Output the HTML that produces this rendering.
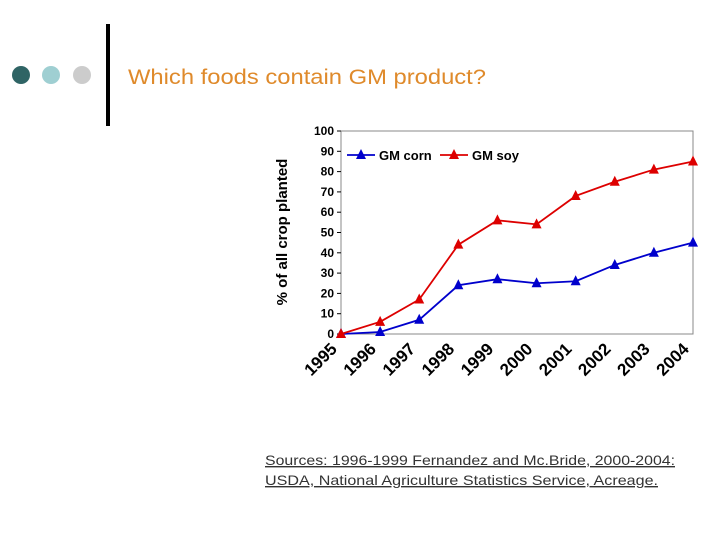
<!DOCTYPE html>
<html><head><meta charset="utf-8"><style>
body{margin:0;background:#fff;width:720px;height:540px;overflow:hidden;font-family:"Liberation Sans",sans-serif}
</style></head><body>
<svg width="720" height="540">
<circle cx="21" cy="75" r="9" fill="#2f6465"/>
<circle cx="51" cy="75" r="9" fill="#9fcfd2"/>
<circle cx="82" cy="75" r="9" fill="#cccccc"/>
<rect x="106" y="24" width="4" height="102" fill="#000"/>
<text x="128" y="84" font-size="21" fill="#df8a2b" textLength="358" lengthAdjust="spacingAndGlyphs">Which foods contain GM product?</text>
<g id="chart"></g>
<text x="265" y="465" font-size="14" fill="#333" text-decoration="underline" textLength="410" lengthAdjust="spacingAndGlyphs">Sources: 1996-1999 Fernandez and Mc.Bride, 2000-2004:</text>
<text x="265" y="485" font-size="14" fill="#333" text-decoration="underline" textLength="393" lengthAdjust="spacingAndGlyphs">USDA, National Agriculture Statistics Service, Acreage.</text>
</svg>
<script>
const years=["1995","1996","1997","1998","1999","2000","2001","2002","2003","2004"];
const corn=[0,1,7,24,27,25,26,34,40,45];
const soy=[0,6,17,44,56,54,68,75,81,85];
const yTicks=[0,10,20,30,40,50,60,70,80,90,100];
const NS="http://www.w3.org/2000/svg";
const g=document.getElementById('chart');
const L=341,R=693,T=131,B=334;
const xs=i=>L+(R-L)*i/(years.length-1);
const ys=v=>B-(B-T)*v/100;
function mk(t,a,p){const e=document.createElementNS(NS,t);for(const k in a)e.setAttribute(k,a[k]);(p||g).appendChild(e);return e;}
let fr=mk('rect',{x:L,y:T,width:R-L,height:B-T,fill:'none',stroke:'#888'});


yTicks.forEach(v=>{
 const t=mk('text',{x:L-7,y:ys(v)+4,'text-anchor':'end','font-size':12,'font-weight':'bold'});t.textContent=v;
 
 
 mk('line',{x1:L-4,x2:L,y1:ys(v),y2:ys(v),stroke:'#000'});
});
years.forEach((y,i)=>{
 const x=xs(i)-3,yy=350;
 const t=mk('text',{x:x,y:yy,'text-anchor':'end','font-size':17,'font-weight':'bold',transform:`rotate(-45 ${x} ${yy})`});t.textContent=y;
 
 
});
const yt=mk('text',{x:0,y:0,'text-anchor':'middle','font-size':15,'font-weight':'bold',transform:'translate(287,232) rotate(-90)'});
yt.textContent='% of all crop planted';


function tri(x,y,c,name){const p=mk('polygon',{points:`${x},${y-6} ${x-5},${y+4} ${x+5},${y+4}`,fill:c});
 
 }
function series(d,c,name){
 const l=mk('polyline',{points:d.map((v,i)=>xs(i)+','+ys(v)).join(' '),fill:'none',stroke:c,'stroke-width':1.8});
 
 
 d.forEach((v,i)=>tri(xs(i),ys(v),c,name+'-point'));
}
series(corn,'#0000cc','corn');
series(soy,'#dd0000','soy');
mk('line',{x1:347,x2:375,y1:155,y2:155,stroke:'#0000cc','stroke-width':1.8});tri(361,155,'#0000cc','legend-corn-marker');
let lt=mk('text',{x:379,y:160,'font-size':13,'font-weight':'bold'});lt.textContent='GM corn';


mk('line',{x1:440,x2:468,y1:155,y2:155,stroke:'#dd0000','stroke-width':1.8});tri(454,155,'#dd0000','legend-soy-marker');
lt=mk('text',{x:472,y:160,'font-size':13,'font-weight':'bold'});lt.textContent='GM soy';


</script>
</body></html>
